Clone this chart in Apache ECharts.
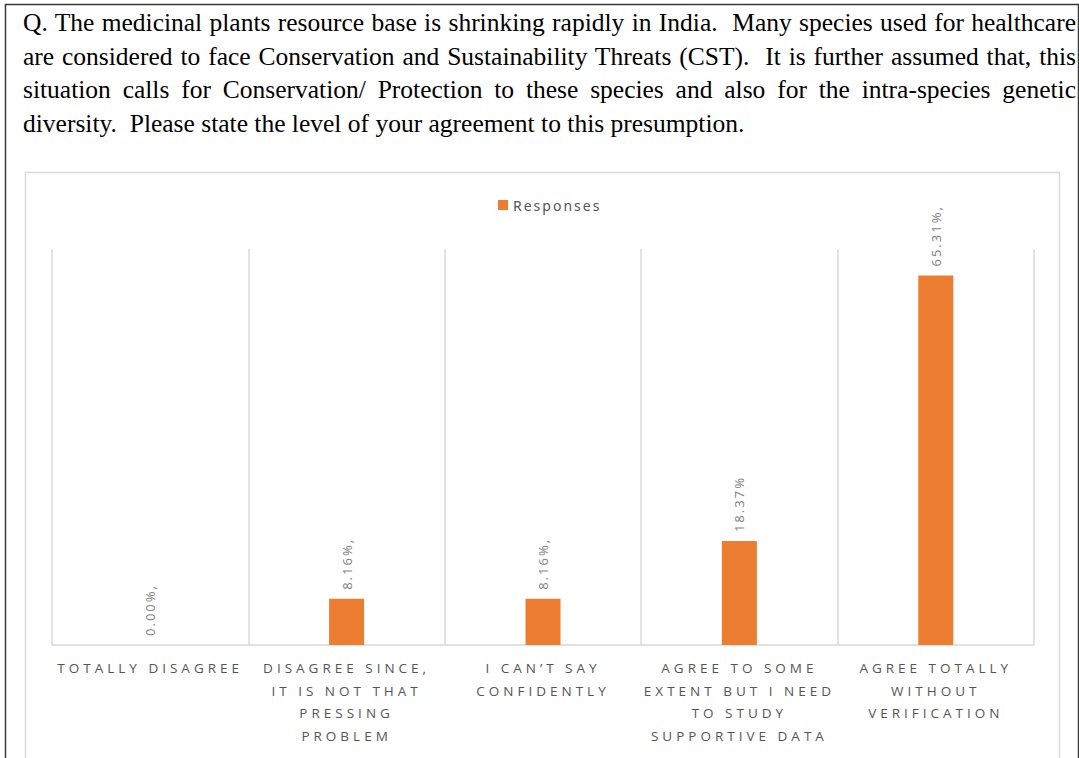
<!DOCTYPE html>
<html>
<head>
<meta charset="utf-8">
<script src="https://cdn.jsdelivr.net/npm/echarts@6/dist/echarts.min.js"></script>
<style>
  html, body { margin: 0; padding: 0; background: #fff; }
  #wrap { position: relative; width: 1079px; height: 758px; overflow: hidden; }
  #chart { position: absolute; left: 0; top: 0; width: 1079px; height: 758px; }
  #question {
    position: absolute; left: 23px; top: 6px; width: 1053px;
    font-family: "Liberation Serif", "Times New Roman", serif;
    font-size: 25.5px; line-height: 33.5px; color: #000;
    pointer-events: none;
  }
  #question div { text-align: justify; text-align-last: justify; white-space: nowrap; }
  #question div.last { text-align-last: left; }
  /* spaced lettering as in the Excel chart */
  #chart text[style*="Open Sans"] { letter-spacing: 4px; }
  #chart text[style*="Noto Sans"] { letter-spacing: 2px; }
</style>
</head>
<body>
<div id="wrap">
  <div id="chart"></div>
  <div id="question"></div>
</div>
<script>
const questionLines = [
  "Q. The medicinal plants resource base is shrinking rapidly in India.\u00a0 Many species used for healthcare",
  "are considered to face Conservation and Sustainability Threats (CST).\u00a0 It is further assumed that, this",
  "situation calls for Conservation/ Protection to these species and also for the intra-species genetic",
  "diversity.\u00a0 Please state the level of your agreement to this presumption."
];

const categories = [
  "TOTALLY DISAGREE",
  "DISAGREE SINCE,\nIT IS NOT THAT\nPRESSING\nPROBLEM",
  "I CAN\u2019T SAY\nCONFIDENTLY",
  "AGREE TO SOME\nEXTENT BUT I NEED\nTO STUDY\nSUPPORTIVE DATA",
  "AGREE TOTALLY\nWITHOUT\nVERIFICATION"
];
const responses = [0, 8.16, 8.16, 18.37, 65.31];
const valueLabels = ["0.00%,", "8.16%,", "8.16%,", "18.37%", "65.31%,"];
const seriesName = "Responses";

const LABEL = "#555555";
const GRID = "#d9d9d9";
const ORANGE = "#ed7d31";

const q = document.getElementById("question");
questionLines.forEach((t, i) => {
  const d = document.createElement("div");
  d.textContent = t;
  if (i === questionLines.length - 1) d.className = "last";
  q.appendChild(d);
});

const chart = echarts.init(document.getElementById("chart"), null, { renderer: "svg" });

chart.setOption({
  animation: false,
  backgroundColor: "#fff",
  graphic: [
    {
      type: "rect", silent: true, z: -10,
      shape: { x: 5.5, y: 4.5, width: 1073, height: 800 },
      style: { fill: "none", stroke: "#3a3a3a", lineWidth: 1.5 }
    },
    {
      type: "rect", silent: true, z: -10,
      shape: { x: 25.5, y: 172.5, width: 1034, height: 700 },
      style: { fill: "none", stroke: GRID, lineWidth: 1.5 }
    }
  ],
  legend: {
    left: 493, top: 193,
    icon: "rect", itemWidth: 10, itemHeight: 10,
    textStyle: { color: LABEL, fontFamily: "Noto Sans", fontSize: 14 },
    data: [seriesName]
  },
  grid: { left: 52, right: 45, top: 249, bottom: 113 },
  xAxis: {
    type: "category",
    data: categories,
    axisLine: { lineStyle: { color: GRID, width: 1.5 } },
    axisTick: { show: false },
    splitLine: { show: true, lineStyle: { color: GRID, width: 1.5 } },
    axisLabel: {
      interval: 0, hideOverlap: false,
      color: LABEL, fontFamily: "Open Sans", fontSize: 13.5,
      lineHeight: 22.5, margin: 12
    }
  },
  yAxis: {
    type: "value", min: 0, max: 70, show: false,
    splitLine: { show: false }
  },
  series: [{
    name: seriesName,
    type: "bar",
    data: responses,
    barWidth: 35,
    itemStyle: { color: ORANGE },
    label: {
      show: true, position: "top", rotate: 90, distance: 9,
      align: "left", verticalAlign: "middle",
      color: "#858585", fontFamily: "Noto Sans", fontSize: 13,
      formatter: (p) => valueLabels[p.dataIndex]
    }
  }]
});
</script>
</body>
</html>
